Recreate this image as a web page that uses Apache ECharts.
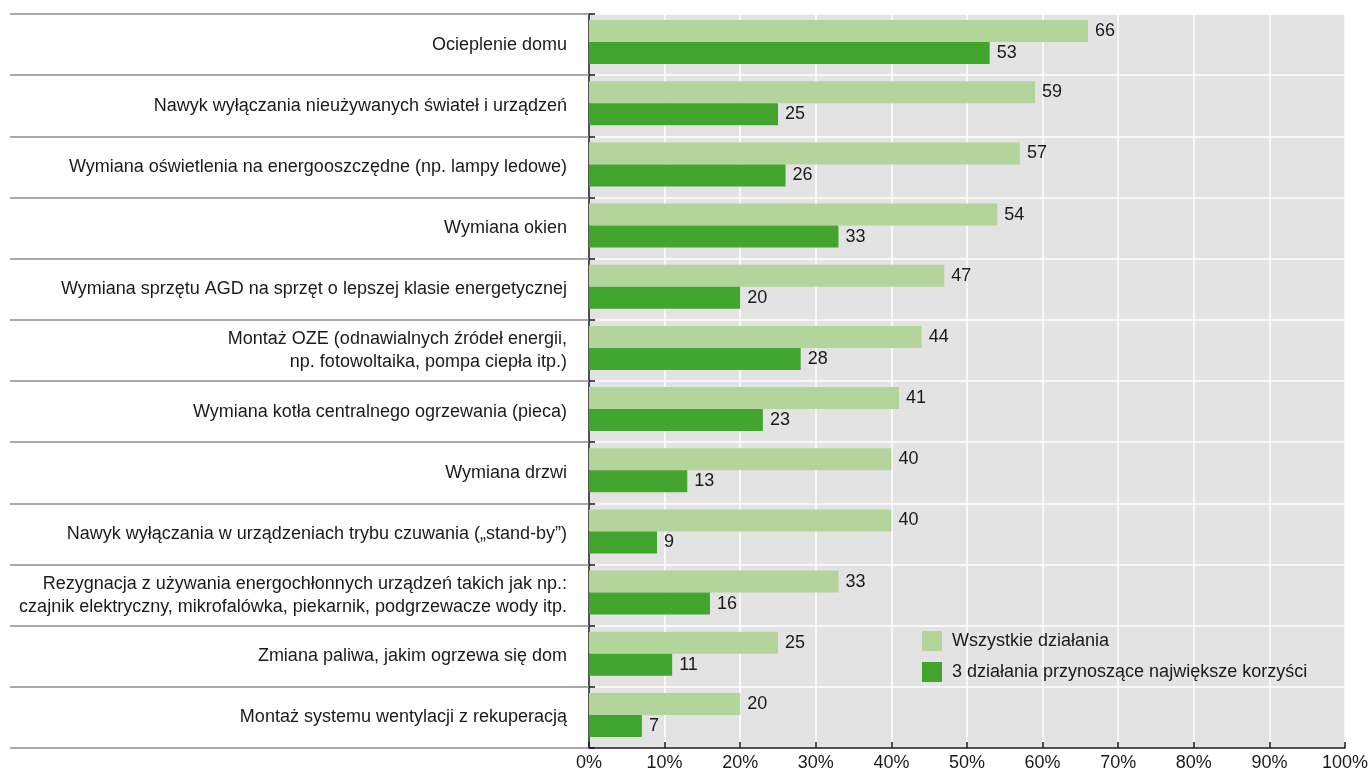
<!DOCTYPE html>
<html>
<head>
<meta charset="utf-8">
<script src="https://cdn.jsdelivr.net/npm/echarts@6/dist/echarts.min.js"></script>
<style>
  html, body { margin: 0; padding: 0; background: #ffffff; }
  #chart { width: 1370px; height: 771px; }
</style>
</head>
<body>
<div id="chart"></div>
<script>
// Działania oszczędzające energię w gospodarstwie domowym (% wskazań)
const categories = [
  'Ocieplenie domu',
  'Nawyk wyłączania nieużywanych świateł i urządzeń',
  'Wymiana oświetlenia na energooszczędne (np. lampy ledowe)',
  'Wymiana okien',
  'Wymiana sprzętu AGD na sprzęt o lepszej klasie energetycznej',
  'Montaż OZE (odnawialnych źródeł energii,\nnp. fotowoltaika, pompa ciepła itp.)',
  'Wymiana kotła centralnego ogrzewania (pieca)',
  'Wymiana drzwi',
  'Nawyk wyłączania w urządzeniach trybu czuwania („stand-by”)',
  'Rezygnacja z używania energochłonnych urządzeń takich jak np.:\nczajnik elektryczny, mikrofalówka, piekarnik, podgrzewacze wody itp.',
  'Zmiana paliwa, jakim ogrzewa się dom',
  'Montaż systemu wentylacji z rekuperacją'
];
const allActions = [66, 59, 57, 54, 47, 44, 41, 40, 40, 33, 25, 20];
const top3Actions = [53, 25, 26, 33, 20, 28, 23, 13, 9, 16, 11, 7];
const seriesNames = ['Wszystkie działania', '3 działania przynoszące największe korzyści'];

const FONT = '"Liberation Sans", Arial, sans-serif';
const TEXT = '#1a1a1a';
const FS = 18;

const chart = echarts.init(document.getElementById('chart'), null, { renderer: 'canvas' });

const valueLabel = {
  show: true,
  position: 'right',
  distance: 7,
  color: TEXT,
  fontSize: FS,
  fontFamily: FONT
};

chart.setOption({
  animation: false,
  textStyle: { fontFamily: FONT },
  grid: {
    left: 589, right: 25, top: 14, bottom: 23,
    outerBoundsMode: 'none',
    show: true,
    backgroundColor: '#e3e3e3',
    borderWidth: 0
  },
  legend: {
    orient: 'vertical',
    left: 917, top: 626,
    itemWidth: 20, itemHeight: 20, itemGap: 11,
    icon: 'rect',
    textStyle: { fontSize: FS, color: TEXT, fontFamily: FONT, padding: [0, 0, 0, 5] },
    data: seriesNames
  },
  xAxis: {
    type: 'value',
    min: 0, max: 100, interval: 10,
    axisLine: { show: true, lineStyle: { color: '#1a1a1a', width: 1.5 } },
    axisTick: { show: true, inside: true, length: 6, lineStyle: { color: '#1a1a1a', width: 1.5 } },
    axisLabel: { formatter: '{value}%', fontSize: FS, color: TEXT, margin: 6, fontFamily: FONT },
    splitLine: { show: true, lineStyle: { color: '#ffffff', width: 1.5 } }
  },
  yAxis: [
    {
      type: 'category',
      data: categories,
      inverse: true,
      axisLine: { show: true, lineStyle: { color: '#1a1a1a', width: 1.5 } },
      axisTick: { show: true, inside: true, length: 6, lineStyle: { color: '#1a1a1a', width: 1.5 } },
      axisLabel: {
        fontSize: FS, color: TEXT, margin: 22, lineHeight: 23,
        align: 'right', fontFamily: FONT
      },
      splitLine: { show: true, lineStyle: { color: '#ffffff', width: 1.5 } }
    },
    {
      // row separators running across the label column
      type: 'category',
      data: categories,
      inverse: true,
      position: 'left',
      axisLine: { show: false },
      axisTick: { show: true, length: 579, lineStyle: { color: '#8c8c8c', width: 1.5 } },
      axisLabel: { show: false },
      splitLine: { show: false }
    }
  ],
  series: [
    {
      name: seriesNames[0],
      type: 'bar',
      yAxisIndex: 0,
      data: allActions,
      barWidth: 22,
      barGap: '0%',
      itemStyle: { color: '#b3d59b' },
      label: valueLabel
    },
    {
      name: seriesNames[1],
      type: 'bar',
      yAxisIndex: 0,
      data: top3Actions,
      barWidth: 22,
      barGap: '0%',
      itemStyle: { color: '#42a62e' },
      label: valueLabel
    },
    {
      // empty spacer slot below each pair, keeps the pair slightly above row centre
      name: 'spacer',
      type: 'bar',
      yAxisIndex: 0,
      data: categories.map(() => null),
      barWidth: 5,
      barGap: '0%',
      silent: true,
      itemStyle: { color: 'transparent' },
      label: { show: false }
    }
  ]
});
</script>
</body>
</html>
